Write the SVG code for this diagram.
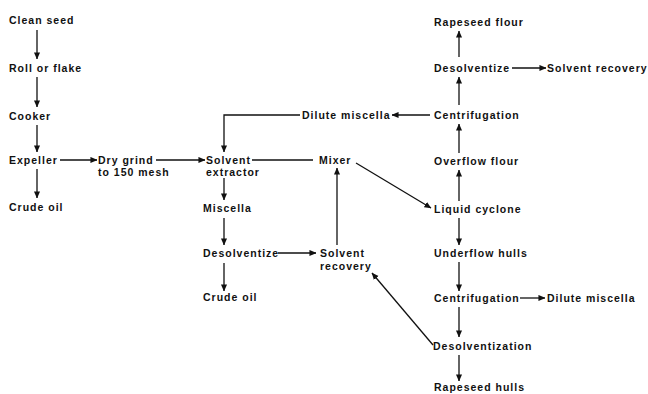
<svg xmlns="http://www.w3.org/2000/svg" width="648" height="394" viewBox="0 0 648 394">
<defs>
<style>
text{font-family:"Liberation Sans",Arial,sans-serif;font-weight:bold;font-size:10.5px;letter-spacing:1px;fill:#111}
.c line,.c path{stroke:#111;stroke-width:1.3;fill:none}
</style>
<marker id="ah" viewBox="0 0 8 8" refX="7.5" refY="4" markerWidth="7" markerHeight="7" markerUnits="userSpaceOnUse" orient="auto">
<path d="M0,0.5 L8,4 L0,7.5 Z" fill="#111"/>
</marker>
</defs>
<rect width="648" height="394" fill="#fff"/>
<g class="c" id="connectors">
<line x1="37" y1="30" x2="37" y2="59" marker-end="url(#ah)"/>
<line x1="37" y1="77" x2="37" y2="107" marker-end="url(#ah)"/>
<line x1="37" y1="125" x2="37" y2="152" marker-end="url(#ah)"/>
<line x1="37" y1="169" x2="37" y2="198" marker-end="url(#ah)"/>
<line x1="60" y1="160" x2="97" y2="160" marker-end="url(#ah)"/>
<line x1="156" y1="160" x2="205" y2="160" marker-end="url(#ah)"/>
<line x1="252" y1="160" x2="313" y2="160"/>
<line x1="356" y1="163" x2="431" y2="208" marker-end="url(#ah)"/>
<path d="M300,115 H224 V152" marker-end="url(#ah)"/>
<line x1="430" y1="115" x2="392" y2="115" marker-end="url(#ah)"/>
<line x1="224" y1="178" x2="224" y2="200" marker-end="url(#ah)"/>
<line x1="224" y1="218" x2="224" y2="245" marker-end="url(#ah)"/>
<line x1="278" y1="253" x2="316" y2="253" marker-end="url(#ah)"/>
<line x1="337" y1="245" x2="337" y2="168" marker-end="url(#ah)"/>
<line x1="224" y1="263" x2="224" y2="291" marker-end="url(#ah)"/>
<line x1="433" y1="345" x2="372" y2="273" marker-end="url(#ah)"/>
<line x1="459" y1="57" x2="459" y2="31" marker-end="url(#ah)"/>
<line x1="512" y1="68" x2="546" y2="68" marker-end="url(#ah)"/>
<line x1="459" y1="105" x2="459" y2="77" marker-end="url(#ah)"/>
<line x1="459" y1="153" x2="459" y2="124" marker-end="url(#ah)"/>
<line x1="459" y1="201" x2="459" y2="170" marker-end="url(#ah)"/>
<line x1="459" y1="218" x2="459" y2="245" marker-end="url(#ah)"/>
<line x1="459" y1="262" x2="459" y2="291" marker-end="url(#ah)"/>
<line x1="520" y1="298" x2="545" y2="298" marker-end="url(#ah)"/>
<line x1="459" y1="307" x2="459" y2="337" marker-end="url(#ah)"/>
<line x1="459" y1="355" x2="459" y2="381" marker-end="url(#ah)"/>
</g>
<g id="clean-seed"><text x="9" y="24">Clean seed</text></g>
<g id="roll-or-flake"><text x="9" y="72">Roll or flake</text></g>
<g id="cooker"><text x="9" y="120">Cooker</text></g>
<g id="expeller"><text x="9" y="164">Expeller</text></g>
<g id="crude-oil-1"><text x="9" y="211">Crude oil</text></g>
<g id="dry-grind"><text x="98" y="164">Dry grind</text><text x="98" y="176">to 150 mesh</text></g>
<g id="solvent-extractor"><text x="206" y="164">Solvent</text><text x="206" y="176">extractor</text></g>
<g id="mixer"><text x="319" y="164">Mixer</text></g>
<g id="dilute-miscella-1"><text x="302" y="119">Dilute miscella</text></g>
<g id="miscella"><text x="203" y="212">Miscella</text></g>
<g id="desolventize-1"><text x="203" y="257">Desolventize</text></g>
<g id="solvent-recovery-1"><text x="320" y="257">Solvent</text><text x="320" y="270">recovery</text></g>
<g id="crude-oil-2"><text x="203" y="301">Crude oil</text></g>
<g id="rapeseed-flour"><text x="434" y="26">Rapeseed flour</text></g>
<g id="desolventize-2"><text x="434" y="72">Desolventize</text></g>
<g id="solvent-recovery-2"><text x="547" y="72">Solvent recovery</text></g>
<g id="centrifugation-1"><text x="434" y="119">Centrifugation</text></g>
<g id="overflow-flour"><text x="434" y="165">Overflow flour</text></g>
<g id="liquid-cyclone"><text x="434" y="213">Liquid cyclone</text></g>
<g id="underflow-hulls"><text x="434" y="257">Underflow hulls</text></g>
<g id="centrifugation-2"><text x="434" y="302">Centrifugation</text></g>
<g id="dilute-miscella-2"><text x="547" y="302">Dilute miscella</text></g>
<g id="desolventization"><text x="433" y="350">Desolventization</text></g>
<g id="rapeseed-hulls"><text x="434" y="391">Rapeseed hulls</text></g>
</svg>
